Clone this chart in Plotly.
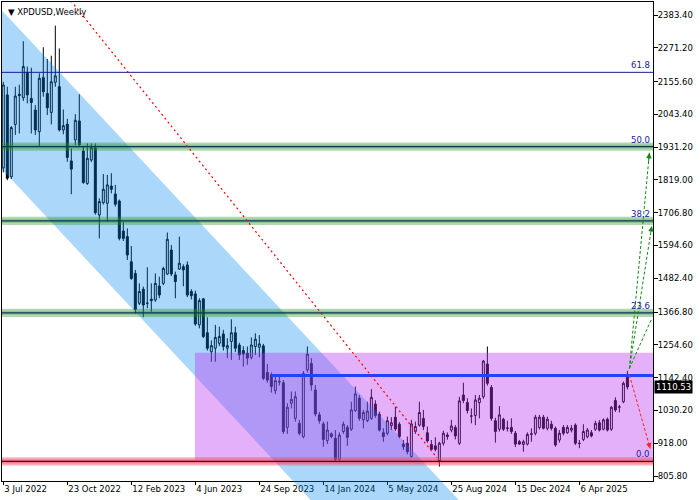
import pandas as pd
import plotly.graph_objects as go

# ---------------- data (weekly OHLC, XPDUSD) ----------------
start_date = "2022-07-03"
opens = [1860, 2110, 1830, 2009, 2112, 2100, 2187, 2098, 2058, 1984, 2169, 2115, 2050, 2153, 2138, 1990,
         2010, 1884, 1956, 2021, 1918, 1807, 1887, 1929, 1699, 1741, 1739, 1798, 1771, 1747, 1644, 1625,
         1539, 1499, 1397, 1445, 1397, 1411, 1408, 1456, 1465, 1497, 1579, 1494, 1514, 1522, 1528, 1437,
         1429, 1323, 1412, 1296, 1231, 1243, 1260, 1292, 1243, 1266, 1296, 1254, 1235, 1226, 1212, 1249,
         1246, 1251, 1160, 1152, 1098, 1130, 1125, 972, 1055, 1003, 986, 940, 1169, 1191, 1100, 1015,
         984, 927, 950, 935, 863, 958, 972, 966, 1030, 1072, 998, 995, 1003, 1052, 1017, 954,
         952, 978, 1007, 983, 915, 918, 872, 958, 980, 1003, 954, 914, 909, 858, 918, 946,
         963, 972, 918, 1083, 1057, 1011, 1013, 1057, 1077, 1189, 1109, 995, 966, 1000, 969, 972,
         952, 923, 914, 915, 950, 952, 972, 1007, 969, 983, 969, 929, 972, 954, 963, 980,
         918, 931, 940, 954, 966, 988, 966, 1000, 966, 1064, 1041, 1060, 1146]
highs = [2155, 2138, 2003, 2138, 2145, 2294, 2207, 2203, 2075, 2184, 2273, 2233, 2244, 2347, 2269, 2060,
         2028, 1927, 2044, 2112, 1933, 1944, 1944, 1944, 1756, 1839, 1836, 1842, 1802, 1752, 1676, 1653,
         1593, 1511, 1465, 1454, 1520, 1465, 1499, 1488, 1522, 1639, 1596, 1505, 1625, 1530, 1540, 1445,
         1440, 1414, 1415, 1349, 1270, 1323, 1317, 1306, 1277, 1342, 1317, 1262, 1250, 1249, 1280, 1294,
         1288, 1258, 1189, 1160, 1146, 1145, 1134, 1055, 1095, 1095, 998, 1165, 1249, 1209, 1117, 1025,
         992, 992, 955, 963, 955, 992, 980, 1060, 1112, 1083, 1032, 1060, 1103, 1065, 1026, 969,
         1009, 1007, 1043, 990, 929, 941, 998, 992, 1060, 1032, 975, 929, 938, 923, 961, 955,
         998, 980, 1077, 1125, 1072, 1037, 1083, 1083, 1203, 1249, 1117, 1005, 1045, 1005, 995, 1003,
         960, 929, 930, 955, 969, 1015, 1015, 1015, 1009, 995, 975, 963, 980, 980, 980, 986,
         929, 983, 970, 963, 995, 997, 1003, 1006, 1045, 1075, 1049, 1129, 1166]
lows = [1845, 1818, 1822, 1973, 1978, 2089, 2081, 1978, 1973, 1933, 2104, 2041, 2009, 2138, 1985, 1975,
        1881, 1770, 1938, 1933, 1806, 1802, 1880, 1700, 1619, 1735, 1676, 1773, 1728, 1612, 1610, 1545,
        1477, 1362, 1391, 1349, 1380, 1368, 1402, 1414, 1459, 1494, 1490, 1414, 1511, 1455, 1418, 1410,
        1320, 1311, 1278, 1235, 1197, 1197, 1250, 1235, 1209, 1203, 1230, 1203, 1180, 1186, 1205, 1220,
        1212, 1134, 1125, 1091, 1086, 1115, 950, 950, 1037, 992, 945, 935, 1160, 1098, 1010, 985,
        906, 915, 935, 855, 858, 950, 909, 960, 1025, 995, 969, 990, 998, 1005, 958, 923,
        945, 963, 960, 935, 895, 880, 869, 950, 975, 963, 920, 895, 890, 838, 910, 930,
        955, 931, 912, 1055, 1020, 986, 980, 1003, 1070, 1115, 995, 920, 958, 960, 958, 950,
        905, 912, 889, 910, 923, 945, 965, 965, 962, 962, 906, 920, 945, 950, 955, 912,
        901, 925, 935, 938, 960, 958, 962, 958, 960, 1025, 1023, 1055, 1102]
closes = [2144, 1825, 1998, 2106, 2108, 2207, 2110, 2084, 1990, 2167, 2121, 2066, 2155, 2175, 1990, 2005,
          1896, 1856, 2023, 1939, 1810, 1893, 1929, 1707, 1745, 1787, 1802, 1787, 1736, 1619, 1619, 1562,
          1482, 1376, 1437, 1391, 1397, 1406, 1465, 1425, 1516, 1616, 1497, 1471, 1534, 1511, 1425, 1423,
          1326, 1406, 1283, 1243, 1252, 1280, 1283, 1249, 1252, 1296, 1243, 1220, 1223, 1209, 1254, 1274,
          1258, 1140, 1134, 1112, 1132, 1128, 958, 1041, 1068, 1077, 952, 1157, 1223, 1117, 1018, 995,
          931, 963, 941, 863, 946, 983, 938, 1032, 1087, 1003, 1023, 1028, 1075, 1013, 963, 941,
          995, 988, 967, 941, 906, 889, 984, 975, 1023, 975, 926, 897, 897, 918, 952, 941,
          977, 943, 1063, 1064, 1030, 1011, 1066, 1072, 1199, 1123, 1003, 958, 1015, 966, 970, 958,
          915, 915, 923, 948, 949, 1007, 1007, 969, 1000, 969, 912, 952, 952, 972, 969, 918,
          917, 958, 963, 943, 986, 963, 998, 963, 1041, 1032, 1042, 1123, 1110.53]

weeks = list(range(len(opens)))
dates = pd.date_range(start_date, periods=len(opens), freq="7D")

x_tick_weeks = [0, 16, 32, 48, 64, 80, 96, 112, 128, 144]
x_tick_labels = ["3 Jul 2022", "23 Oct 2022", "12 Feb 2023", "4 Jun 2023", "24 Sep 2023",
                 "14 Jan 2024", "5 May 2024", "25 Aug 2024", "15 Dec 2024", "6 Apr 2025"]
y_tick_values = [805.80, 918.00, 1030.20, 1142.40, 1254.60, 1366.80, 1482.40, 1594.60,
                 1706.80, 1819.00, 1931.20, 2043.40, 2155.60, 2271.20, 2383.40]

# Fibonacci retracement
fib_low, fib_high = 856.0, 3010.0
fib_levels = [0.0, 23.6, 38.2, 50.0, 61.8]

# drawn objects
channel_upper = [(0, 2394.0), (100, 927.0)]     # (week, price)
channel_height = 543.0
purple_box = {"week0": 47.9, "low": 862.0, "high": 1228.0}
blue_level = {"week0": 67, "price": 1150.0}
red_trend = [(16.9, 2432.0), (108.4, 868.0)]
arrow_start = (156.5, 1174.0)
green_targets = [(161.5, 1912.0), (162.1, 1661.0), (162.1, 1345.0)]
red_start = (156.5, 1151.0)
red_target = (161.7, 900.0)
last_price = closes[-1]

# ---------------- figure ----------------
YMIN, YMAX = 788.7, 2427.9
XMIN, XMAX = -0.325, 162.4
FONT = "DejaVu Sans"

fig = go.Figure()
fig.add_trace(go.Candlestick(
    x=weeks, open=opens, high=highs, low=lows, close=closes,
    increasing=dict(line=dict(color="black", width=1), fillcolor="white"),
    decreasing=dict(line=dict(color="black", width=1), fillcolor="black"),
    whiskerwidth=0, hoverinfo="skip", showlegend=False,
))


def to_paper(p):
    return (p - YMIN) / (YMAX - YMIN)


(cw0, cp0), (cw1, cp1) = channel_upper
slope = (cp1 - cp0) / (cw1 - cw0)


def ch_up(w):
    return cp0 + slope * (w - cw0)


shapes = []
xa, xb = -5, 140
path = (f"M {xa},{to_paper(ch_up(xa))} L {xb},{to_paper(ch_up(xb))} "
        f"L {xb},{to_paper(ch_up(xb) - channel_height)} L {xa},{to_paper(ch_up(xa) - channel_height)} Z")
shapes.append(dict(type="path", path=path, xref="x", yref="paper",
                   fillcolor="rgba(0,137,240,0.33)", line=dict(width=0), layer="above"))

shapes.append(dict(type="rect", xref="x", yref="y", x0=purple_box["week0"], x1=200,
                   y0=purple_box["low"], y1=purple_box["high"],
                   fillcolor="rgba(184,47,242,0.38)", line=dict(width=0), layer="above"))

for lvl in fib_levels:
    price = fib_low + (fib_high - fib_low) * lvl / 100.0
    if lvl == 61.8:
        shapes.append(dict(type="line", xref="x", yref="y", x0=-5, x1=200, y0=price, y1=price,
                           line=dict(color="#1a1a8c", width=1), layer="above"))
        continue
    if lvl == 0.0:
        outer, inner, lc = "rgba(255,60,90,0.42)", "rgba(225,20,60,0.30)", "#5a0018"
    else:
        outer, inner, lc = "rgba(40,150,40,0.36)", "rgba(20,120,40,0.22)", "#0c3550"
    shapes.append(dict(type="rect", xref="x", yref="y", x0=-5, x1=200, y0=price - 14, y1=price + 14,
                       fillcolor=outer, line=dict(width=0), layer="above"))
    shapes.append(dict(type="rect", xref="x", yref="y", x0=-5, x1=200, y0=price - 7, y1=price + 7,
                       fillcolor=inner, line=dict(width=0), layer="above"))
    shapes.append(dict(type="line", xref="x", yref="y", x0=-5, x1=200, y0=price, y1=price,
                       line=dict(color=lc, width=1.3), layer="above"))

shapes.append(dict(type="line", xref="x", yref="y", x0=blue_level["week0"], x1=200,
                   y0=blue_level["price"], y1=blue_level["price"],
                   line=dict(color="#2342ff", width=3), layer="above"))

(rw0, rp0), (rw1, rp1) = red_trend
shapes.append(dict(type="line", xref="x", yref="y", x0=rw0, y0=rp0, x1=rw1, y1=rp1,
                   line=dict(color="#ff0000", width=1.2, dash="2px,3px"), layer="above"))

annotations = []


def arrow(s, t, color):
    shapes.append(dict(type="line", xref="x", yref="y", x0=s[0], y0=s[1], x1=t[0], y1=t[1],
                       line=dict(color=color, width=1, dash="3px,2px"), layer="above"))
    f = 0.05
    annotations.append(dict(x=t[0], y=t[1], xref="x", yref="y", axref="x", ayref="y",
                            ax=t[0] - f * (t[0] - s[0]), ay=t[1] - f * (t[1] - s[1]),
                            text="", showarrow=True, arrowhead=2, arrowsize=1.1,
                            arrowwidth=1, arrowcolor=color))


for tgt in green_targets:
    arrow(arrow_start, tgt, "#138a13")
arrow(red_start, red_target, "#ff2020")

for lvl in fib_levels:
    price = fib_low + (fib_high - fib_low) * lvl / 100.0
    annotations.append(dict(xref="paper", x=1, xshift=-1, xanchor="right", y=price, yref="y",
                            yanchor="bottom", text=f"{lvl:.1f}", showarrow=False,
                            font=dict(family=FONT, size=8.5, color="#20209a")))

annotations.append(dict(xref="paper", x=1, xanchor="left", xshift=1, y=last_price, yref="y",
                        yanchor="middle", text=f"{last_price:.2f}", showarrow=False,
                        bgcolor="black", borderpad=1,
                        font=dict(family=FONT, size=8.5, color="white")))
annotations.append(dict(xref="paper", yref="paper", x=0, y=1, xshift=4, yshift=-3,
                        xanchor="left", yanchor="top", showarrow=False,
                        text="▼ XPDUSD,Weekly",
                        font=dict(family=FONT, size=8.5, color="black")))

fig.update_layout(
    width=700, height=500,
    margin=dict(l=2, r=47, t=2, b=19),
    paper_bgcolor="white", plot_bgcolor="white",
    font=dict(family=FONT, size=8.5, color="black"),
    showlegend=False, hovermode=False,
    shapes=shapes, annotations=annotations,
    xaxis=dict(range=[XMIN, XMAX], tickvals=x_tick_weeks, ticktext=x_tick_labels,
               ticks="outside", ticklen=3, tickcolor="black", showgrid=False, zeroline=False,
               showline=True, linecolor="black", linewidth=1, mirror=True,
               ticklabelposition="outside right", rangeslider=dict(visible=False)),
    yaxis=dict(range=[YMIN, YMAX], side="right", tickvals=y_tick_values, tickformat=".2f",
               ticks="outside", ticklen=4, tickcolor="black", showgrid=False, zeroline=False,
               showline=True, linecolor="black", linewidth=1, mirror=True,
               ticklabelstandoff=-2),
)

fig.write_html("out.html",
               config={"displayModeBar": False},
               post_script="document.body.style.margin='0px';document.body.style.overflow='hidden';")
